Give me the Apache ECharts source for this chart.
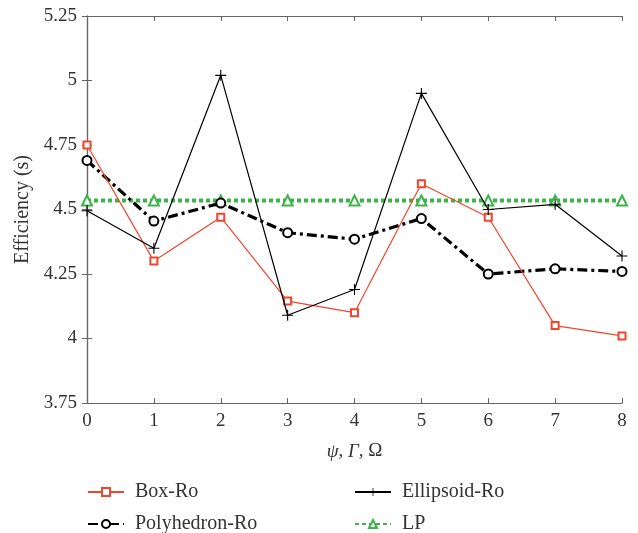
<!DOCTYPE html>
<html><head><meta charset="utf-8">
<script src="https://cdn.jsdelivr.net/npm/echarts@6/dist/echarts.min.js"></script>
<style>html,body{margin:0;padding:0;background:#fff}#c{width:638px;height:533px}</style>
</head><body><div id="c"></div>
<script>
const xValues = [0, 1, 2, 3, 4, 5, 6, 7, 8];
const boxRo = [4.75, 4.30, 4.47, 4.145, 4.10, 4.60, 4.47, 4.05, 4.01];
const ellipsoidRo = [4.495, 4.35, 5.02, 4.09, 4.19, 4.95, 4.50, 4.52, 4.32];
const polyhedronRo = [4.69, 4.455, 4.525, 4.41, 4.385, 4.465, 4.25, 4.27, 4.26];
const lp = [4.535, 4.535, 4.535, 4.535, 4.535, 4.535, 4.535, 4.535, 4.535];
const seriesNames = ['Box-Ro', 'Ellipsoid-Ro', 'Polyhedron-Ro', 'LP'];

const FONT = '"Liberation Serif", "DejaVu Serif", serif';
const RED = '#f0462d', GREEN = '#3cb44a', AX = '#666';
const plus = 'path://M4.5,0h1v4.5h4.5v1h-4.5v4.5h-1v-4.5h-4.5v-1h4.5z';
const pairs = arr => xValues.map((x, i) => [x, arr[i]]);

const chart = echarts.init(document.getElementById('c'), null, {renderer: 'canvas'});
const axisCommon = {
  axisLine: {show: true, lineStyle: {color: AX, width: 1.2}},
  axisTick: {show: true, inside: true, length: 5, lineStyle: {color: AX}},
  splitLine: {show: false}
};
const legendPos = [[87, 482], [354, 482], [87, 514], [354, 514]];
const legendOrder = [seriesNames[0], seriesNames[1], seriesNames[2], seriesNames[3]];
const legends = legendOrder.map((n, i) => ({
  left: legendPos[i][0], top: legendPos[i][1], itemWidth: 36, itemHeight: 10,
  padding: 0, data: [n], selectedMode: false,
  textStyle: {fontFamily: FONT, fontSize: 20, color: '#333', padding: [0, 0, 0, 6]}
}));
chart.setOption({
  animation: false,
  grid: {left: 87, right: 16, top: 16, bottom: 130},
  xAxis: [
    Object.assign({type: 'value', min: 0, max: 8, interval: 1, position: 'bottom',
      axisLabel: {fontFamily: FONT, fontSize: 19, color: '#333', margin: 9},
      name: '{i|ψ}, {i|Γ}, Ω', nameLocation: 'middle', nameGap: 39,
      nameTextStyle: {fontFamily: FONT, fontSize: 19, color: '#333',
        rich: {i: {fontFamily: FONT, fontSize: 19, fontStyle: 'italic', color: '#333'}}}
    }, axisCommon),
    Object.assign({type: 'value', min: 0, max: 8, interval: 1, position: 'top',
      axisLabel: {show: false}}, axisCommon)
  ],
  yAxis: [
    Object.assign({type: 'value', min: 3.75, max: 5.25, interval: 0.25, position: 'left',
      axisLabel: {fontFamily: FONT, fontSize: 19, color: '#333', margin: 10},
      name: 'Efficiency (s)', nameLocation: 'middle', nameGap: 52,
      nameTextStyle: {fontFamily: FONT, fontSize: 20, color: '#333'}
    }, axisCommon),
    Object.assign({type: 'value', min: 3.75, max: 5.25, interval: 0.25, position: 'right',
      axisLabel: {show: false}}, axisCommon)
  ],
  legend: legends,
  series: [
    {name: seriesNames[3], type: 'line', data: pairs(lp), z: 1,
      symbol: 'emptyTriangle', symbolSize: 10, color: GREEN,
      lineStyle: {color: GREEN, width: 4, type: [4, 3]},
      itemStyle: {color: GREEN, borderColor: GREEN, borderWidth: 1.3}},
    {name: seriesNames[0], type: 'line', data: pairs(boxRo), z: 3,
      symbol: 'emptyRect', symbolSize: 7, color: RED,
      lineStyle: {color: RED, width: 1.2},
      itemStyle: {color: RED, borderColor: RED, borderWidth: 1.2}},
    {name: seriesNames[1], type: 'line', data: pairs(ellipsoidRo), z: 4,
      symbol: plus, symbolSize: 11, color: '#000',
      lineStyle: {color: '#000', width: 1.2},
      itemStyle: {color: '#000'}},
    {name: seriesNames[2], type: 'line', data: pairs(polyhedronRo), z: 2,
      symbol: 'emptyCircle', symbolSize: 9, color: '#000',
      lineStyle: {color: '#000', width: 3.2, type: [10, 4, 3, 4]},
      itemStyle: {color: '#000', borderColor: '#000', borderWidth: 1.3}}
  ]
});
</script></body></html>
